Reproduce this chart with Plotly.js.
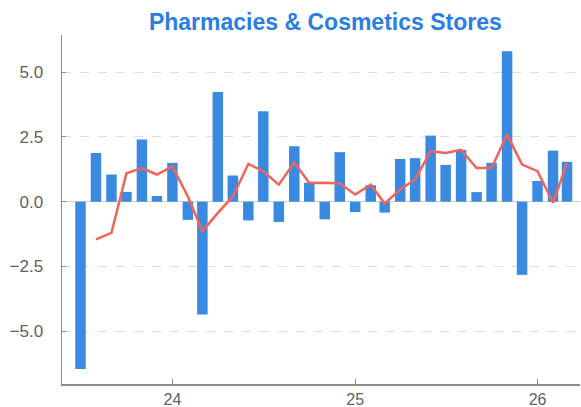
<!DOCTYPE html>
<html>
<head>
<meta charset="utf-8">
<script src="https://cdn.plot.ly/plotly-3.0.1.min.js"></script>
<style>html,body{margin:0;padding:0;background:#fff;}#chart{width:581px;height:407px;}</style>
</head>
<body>
<div id="chart"></div>
<script>
const barMonths = ['2023-07-01','2023-08-01','2023-09-01','2023-10-01','2023-11-01','2023-12-01',
  '2024-01-01','2024-02-01','2024-03-01','2024-04-01','2024-05-01','2024-06-01','2024-07-01','2024-08-01','2024-09-01','2024-10-01','2024-11-01','2024-12-01',
  '2025-01-01','2025-02-01','2025-03-01','2025-04-01','2025-05-01','2025-06-01','2025-07-01','2025-08-01','2025-09-01','2025-10-01','2025-11-01','2025-12-01',
  '2026-01-01','2026-02-01','2026-03-01'];
const monthlyChange = [-6.45, 1.88, 1.05, 0.38, 2.4, 0.22,
  1.5, -0.7, -4.35, 4.23, 1.01, -0.72, 3.49, -0.78, 2.14, 0.73, -0.68, 1.91,
  -0.4, 0.64, -0.42, 1.65, 1.68, 2.55, 1.42, 2.0, 0.37, 1.5, 5.8, -2.82,
  0.8, 1.97, 1.54];
const lineMonths = barMonths.slice(1);
const rollingAvg = [-1.45, -1.2, 1.1, 1.3, 1.05,
  1.36, 0.2, -1.14, -0.43, 0.2, 1.46, 1.17, 0.66, 1.52, 0.72, 0.73, 0.7,
  0.28, 0.66, -0.07, 0.47, 0.86, 1.95, 1.88, 2.0, 1.3, 1.3, 2.59, 1.43,
  1.18, -0.04, 1.5];
const yTicks = [-5, -2.5, 0, 2.5, 5];
const titleText = 'Pharmacies & Cosmetics Stores';

const traces = [
  {type:'bar', x: barMonths, y: monthlyChange, marker:{color:'#3b8ae2'}, hoverinfo:'x+y'},
  {type:'scatter', mode:'lines', x: lineMonths, y: rollingAvg, line:{color:'#f0645a', width:2.5}}
];
const layout = {
  width:581, height:407,
  margin:{l:62, r:1, t:35, b:23},
  paper_bgcolor:'#fff', plot_bgcolor:'#fff',
  showlegend:false,
  bargap:0.25,
  font:{family:'Liberation Sans, Arial, sans-serif', color:'#5f5f5f', size:17},
  title:{text:titleText, font:{family:'Liberation Sans, Arial, sans-serif', size:23, color:'#2a7de1', weight:'bold'},
         x:0.56, xref:'container', xanchor:'center', y:1-22/407, yref:'container', yanchor:'middle'},
  xaxis:{type:'date', range:['2023-05-25','2026-03-27'], tick0:'2024-01-01', dtick:'M12', tickformat:'%y',
         showline:true, linecolor:'#8a8a8a', linewidth:1.5, ticks:'inside', ticklen:5, tickcolor:'#8a8a8a',
         showgrid:false, zeroline:false, tickfont:{size:16, color:'#5f5f5f'}},
  yaxis:{range:[-7.03, 6.43], tickvals:yTicks, tickformat:'.1f',
         showline:true, linecolor:'#8a8a8a', linewidth:1.5, ticks:'inside', ticklen:4, tickcolor:'#8a8a8a',
         showgrid:true, gridcolor:'#dddddd', griddash:'dash', gridwidth:1,
         zeroline:true, zerolinecolor:'#cccccc', zerolinewidth:1,
         ticklabelstandoff:14, tickfont:{size:17, color:'#5f5f5f'}}
};
Plotly.newPlot('chart', traces, layout, {staticPlot:true, displayModeBar:false});
</script>
</body>
</html>
